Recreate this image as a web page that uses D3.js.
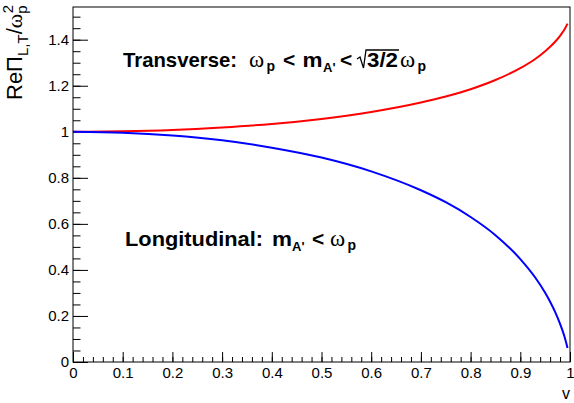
<!DOCTYPE html>
<html>
<head>
<meta charset="utf-8">
<script src="https://cdn.jsdelivr.net/npm/d3@7"></script>
<style>
  body { margin: 0; background: #fff; }
  svg { display: block; font-family: "Liberation Sans", Arial, sans-serif; }
</style>
</head>
<body>
<div id="chart"></div>
<script>
// velocity values and the two polarisation curves
var vValues = [0, 0.1, 0.2, 0.3, 0.4, 0.5, 0.6, 0.7, 0.75, 0.8, 0.85, 0.9, 0.93, 0.95, 0.96, 0.97, 0.98, 0.985, 0.99, 0.995];
var transverse = [1.000, 1.002, 1.008, 1.019, 1.034, 1.056, 1.086, 1.127, 1.153, 1.185, 1.225, 1.276, 1.316, 1.350, 1.369, 1.391, 1.417, 1.432, 1.449, 1.470];
var longitudinal = [1.000, 0.996, 0.984, 0.963, 0.931, 0.888, 0.828, 0.746, 0.694, 0.630, 0.551, 0.447, 0.367, 0.301, 0.262, 0.218, 0.166, 0.136, 0.102, 0.061];

var xTicks = [0, 0.1, 0.2, 0.3, 0.4, 0.5, 0.6, 0.7, 0.8, 0.9, 1];
var yTicks = [0, 0.2, 0.4, 0.6, 0.8, 1, 1.2, 1.4];

var W = 574, H = 403;
var margin = {top: 7, right: 4, bottom: 41, left: 73};
var width = W - margin.left - margin.right,
    height = H - margin.top - margin.bottom;

var x = d3.scaleLinear().domain([0, 1]).range([0, width]);
var y = d3.scaleLinear().domain([0, 1.542]).range([height, 0]);

var svg = d3.select("#chart").append("svg")
  .attr("width", W)
  .attr("height", H);

svg.append("rect").attr("width", W).attr("height", H).attr("fill", "#fff");

var g = svg.append("g")
  .attr("transform", "translate(" + margin.left + "," + margin.top + ")");

// minor ticks
var xMinor = d3.range(0, 1.0001, 0.02).map(function(d){ return +d.toFixed(2); });
var yMinor = d3.range(0, 1.5001, 0.05).map(function(d){ return +d.toFixed(2); });

g.append("g")
  .attr("transform", "translate(0," + height + ")")
  .call(d3.axisBottom(x).tickValues(xMinor).tickSize(-5).tickFormat(""))
  .call(function(a){ a.select(".domain").remove(); });

g.append("g")
  .call(d3.axisLeft(y).tickValues(yMinor).tickSize(-7.5).tickFormat(""))
  .call(function(a){ a.select(".domain").remove(); });

// major ticks + labels
var xAxis = g.append("g")
  .attr("transform", "translate(0," + height + ")")
  .call(d3.axisBottom(x).tickValues(xTicks).tickSize(-10).tickPadding(5)
    .tickFormat(function(d){ return d3.format("")(d); }));
xAxis.select(".domain").remove();
xAxis.selectAll("text").attr("font-size", 15).attr("font-family", "Liberation Sans, Arial, sans-serif").attr("fill", "#000");

var yAxis = g.append("g")
  .call(d3.axisLeft(y).tickValues(yTicks).tickSize(-15).tickPadding(4)
    .tickFormat(function(d){ return d3.format("")(d); }));
yAxis.select(".domain").remove();
yAxis.selectAll("text").attr("font-size", 15).attr("font-family", "Liberation Sans, Arial, sans-serif").attr("fill", "#000");
g.selectAll(".tick line").attr("stroke", "#000");

// curves
var line = d3.line()
  .x(function(d){ return x(d[0]); })
  .y(function(d){ return y(d[1]); })
  .curve(d3.curveMonotoneX);

g.append("path")
  .datum(vValues.map(function(v, i){ return [v, transverse[i]]; }))
  .attr("fill", "none").attr("stroke", "#ff0000").attr("stroke-width", 2)
  .attr("d", line);

g.append("path")
  .datum(vValues.map(function(v, i){ return [v, longitudinal[i]]; }))
  .attr("fill", "none").attr("stroke", "#0000ff").attr("stroke-width", 2)
  .attr("d", line);

// frame
g.append("rect")
  .attr("width", width).attr("height", height)
  .attr("fill", "none").attr("stroke", "#000").attr("stroke-width", 1);

// axis titles
svg.append("text")
  .attr("x", 570).attr("y", 399)
  .attr("text-anchor", "end")
  .attr("font-size", 16)
  .text("v");

var yt = svg.append("text")
  .attr("transform", "translate(22,5) rotate(-90)")
  .attr("text-anchor", "end")
  .attr("font-size", 22);
yt.append("tspan").text("Re\u03A0");
yt.append("tspan").attr("font-size", 15).attr("dy", 6).text("L,T");
yt.append("tspan").attr("dy", -6).text("/");
yt.append("tspan").attr("font-family", "Liberation Serif, serif").text("\u03C9");
yt.append("tspan").attr("font-size", 15).attr("dy", 5).text("p");
yt.append("tspan").attr("font-size", 15).attr("dx", -8).attr("dy", -14).text("2");

// annotations: each piece placed where it sits in the plot
var serif = "Liberation Serif, Times New Roman, serif";
function piece(sel, px, py, str, opts) {
  opts = opts || {};
  var t = sel.append("text")
    .attr("x", px).attr("y", py)
    .attr("font-size", opts.size || 21)
    .attr("font-weight", opts.normal ? "normal" : "bold")
    .text(str);
  if (opts.serif) t.attr("font-family", serif);
  if (opts.len) t.attr("textLength", opts.len).attr("lengthAdjust", "spacingAndGlyphs");
  return t;
}

var ann = svg.append("g").attr("fill", "#000");
var b1 = 67;
piece(ann, 123, b1, "Transverse:", {len: 114});
piece(ann, 249, b1, "\u03C9", {serif: true, normal: true, size: 23});
piece(ann, 266.5, b1 + 4, "p", {size: 14});
piece(ann, 283, b1, "<");
piece(ann, 302.5, b1, "m", {len: 20});
piece(ann, 323, b1 + 5, "A'", {size: 13});
piece(ann, 340, b1, "<");
var rad = piece(ann, 367, b1, "3/2", {len: 31});
piece(ann, 400, b1, "\u03C9", {serif: true, normal: true, size: 23});
piece(ann, 417.5, b1 + 4, "p", {size: 14});
ann.append("path")
  .attr("d", "M357,59 L360,57 L363.5,68 L366,50 L399,50")
  .attr("fill", "none").attr("stroke", "#000").attr("stroke-width", 1.3);

var b2 = 246;
piece(ann, 125, b2, "Longitudinal:", {len: 138});
piece(ann, 272, b2, "m", {len: 20});
piece(ann, 292, b2 + 5, "A'", {size: 13});
piece(ann, 312, b2, "<");
piece(ann, 330, b2, "\u03C9", {serif: true, normal: true, size: 23});
piece(ann, 347.5, b2 + 4, "p", {size: 14});
</script>
</body>
</html>
